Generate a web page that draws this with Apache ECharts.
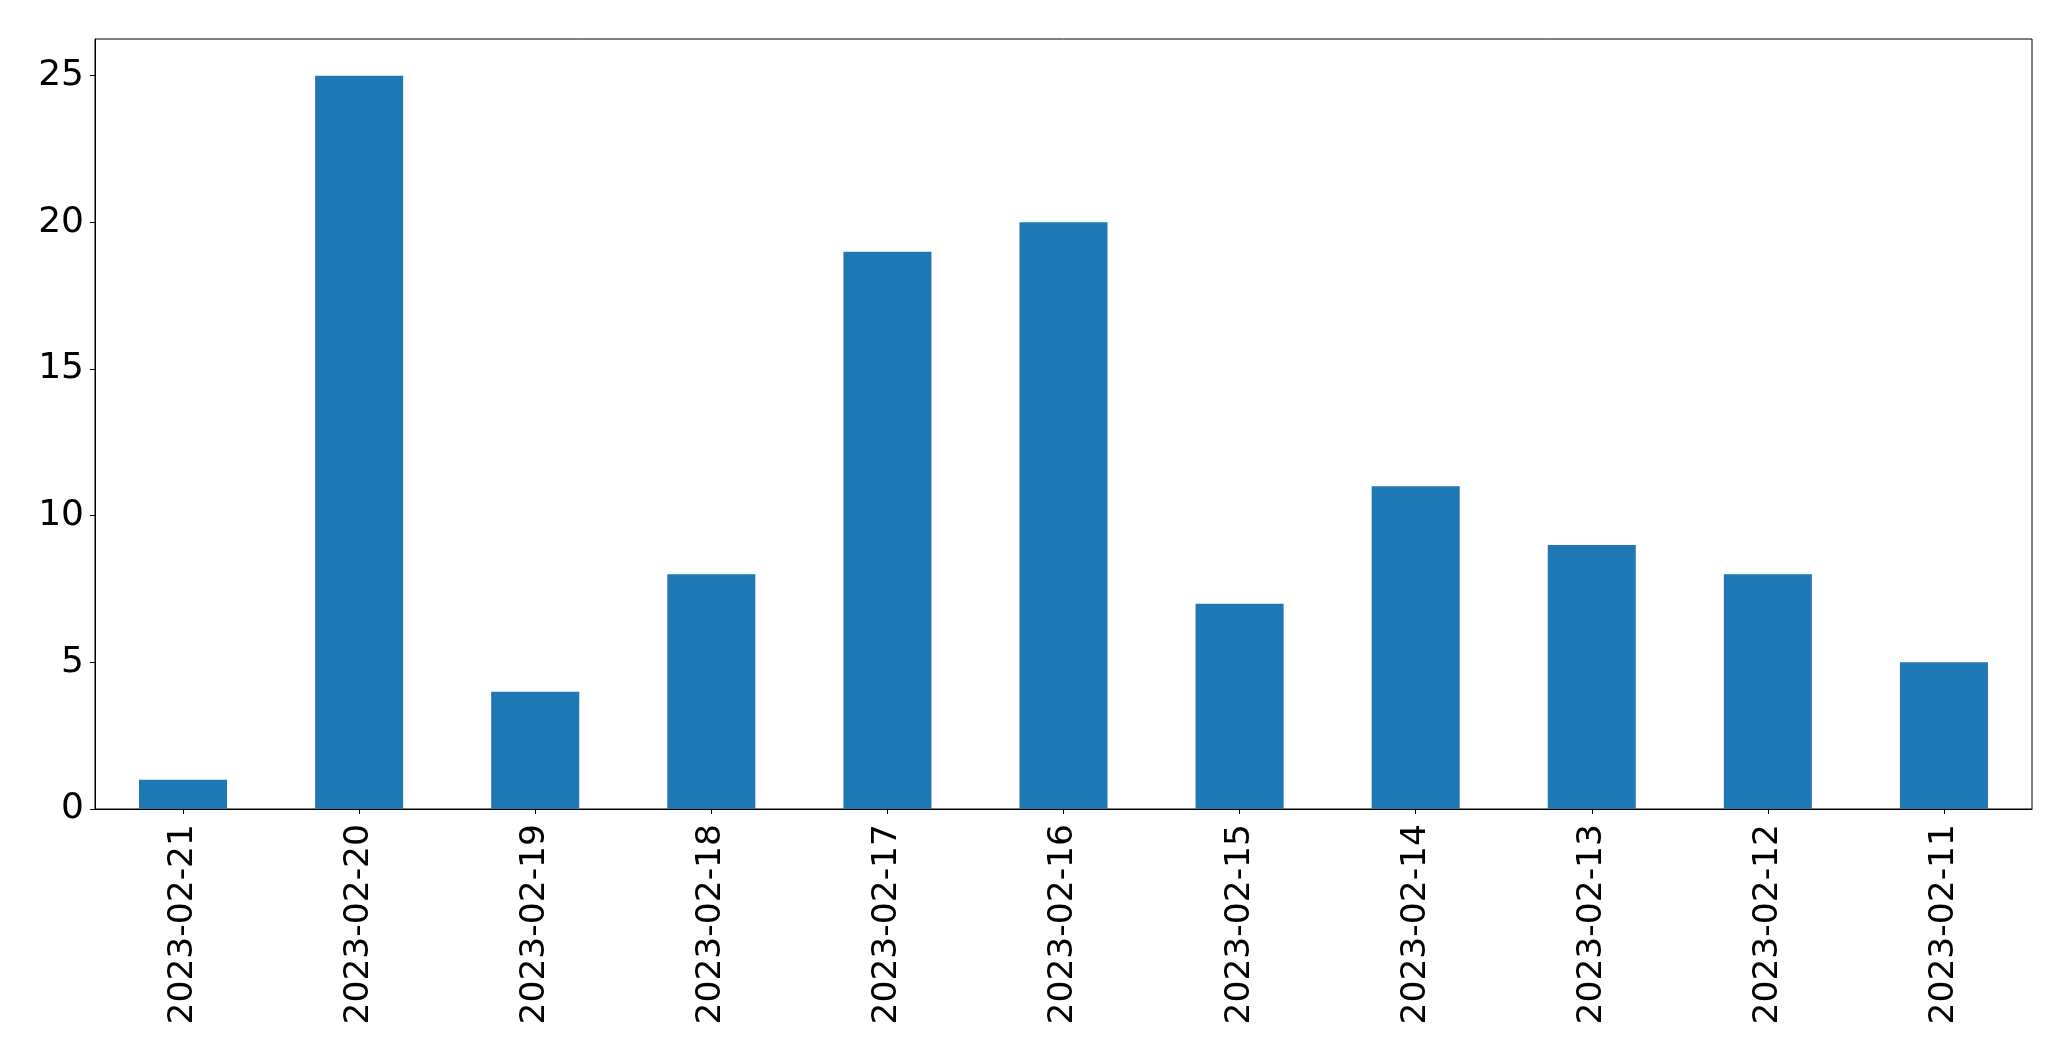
<!DOCTYPE html>
<html>
<head>
<meta charset="utf-8">
<script src="https://cdn.jsdelivr.net/npm/echarts@6/dist/echarts.min.js"></script>
<style>html,body{margin:0;padding:0;background:#fff;}#c{width:2071px;height:1061px;}</style>
</head>
<body>
<div id="c"></div>
<script>
const categories = ["2023-02-21","2023-02-20","2023-02-19","2023-02-18","2023-02-17","2023-02-16","2023-02-15","2023-02-14","2023-02-13","2023-02-12","2023-02-11"];
const values = [1, 25, 4, 8, 19, 20, 7, 11, 9, 8, 5];
const yTicks = [0, 5, 10, 15, 20, 25];

const chart = echarts.init(document.getElementById('c'));
const font = "'DejaVu Sans', sans-serif";
chart.setOption({
  animation: false,
  grid: {left: 95, right: 39, top: 39, bottom: 252, show: true, borderColor: '#000', borderWidth: 1, backgroundColor: 'transparent'},
  xAxis: {
    type: 'category',
    data: categories,
    boundaryGap: true,
    axisLine: {show: true, lineStyle: {color: '#000', width: 1}},
    axisTick: {show: true, alignWithLabel: true, length: 5, lineStyle: {color: '#000'}},
    axisLabel: {rotate: 90, color: '#000', fontSize: 34.5, fontFamily: font, margin: 15, interval: 0},
    splitLine: {show: false}
  },
  yAxis: {
    type: 'value',
    min: 0,
    max: 26.25,
    interval: 5,
    axisLine: {show: true, lineStyle: {color: '#000', width: 1}},
    axisTick: {show: true, length: 5, lineStyle: {color: '#000'}, customValues: yTicks},
    axisLabel: {color: '#000', fontSize: 36, fontFamily: font, margin: 11, customValues: yTicks},
    splitLine: {show: false}
  },
  series: [{
    type: 'bar',
    data: values,
    barWidth: '50%',
    itemStyle: {color: '#1f77b4'}
  }]
});
</script>
</body>
</html>
